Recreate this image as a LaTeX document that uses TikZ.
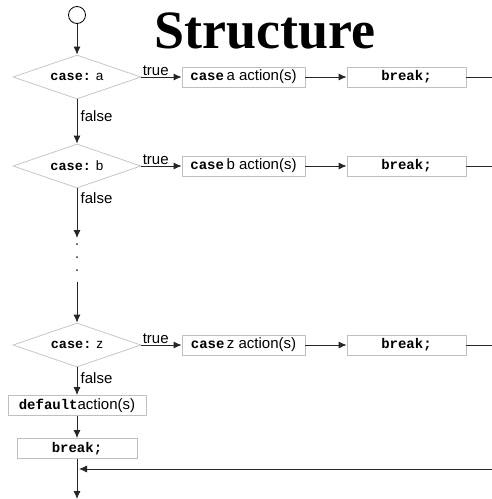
\documentclass[tikz,border=0pt]{standalone}
\usepackage{fontspec}
\setmainfont{Liberation Sans}
\setmonofont{Liberation Mono}
\newfontfamily\titlefont{Liberation Serif}
\usetikzlibrary{shapes.geometric,arrows.meta}

\newcommand{\kw}[1]{{\ttfamily\bfseries\fontsize{14}{16}\selectfont #1}}

\begin{document}
\begin{tikzpicture}[x=1pt, y=-1pt, line width=0.8pt]

    \tikzstyle{every node}=[font=\fontsize{15}{17}\selectfont]
    \tikzstyle{decision}=[draw=gray!45, diamond, aspect=2.9, minimum width=128pt,
                          minimum height=44pt, inner sep=0pt, font=\fontsize{13.5}{15}\selectfont]
    \tikzstyle{action}=[draw=gray!50, rectangle, minimum height=20pt, inner sep=1pt]
    \tikzstyle{flow}=[draw=black!85, -{Latex[length=8pt,width=7pt]}]

    \useasboundingbox (0,0) rectangle (492,499);

    \node[font=\titlefont\bfseries\fontsize{54}{60}\selectfont, anchor=base] (title) at (265,48) {Structure};
    \node[circle, draw, minimum size=17pt, inner sep=0pt] (start) at (77,15) {};

    % one row per case label
    \foreach \v/\y in {a/77, b/166, z/345} {
        \node[decision] (dec\v) at (77,\y) {{\ttfamily\bfseries case:} \v};
        \node[action, minimum width=123pt] (act\v) at (243.5,\y) {\kw{case}\,\v{} action(s)};
        \node[action, minimum width=119pt] (brk\v) at (406.5,\y) {\kw{break;}};
        \coordinate (out\v) at (492,\y);
        \draw[flow] (dec\v) -- node[pos=0, above right, inner sep=1pt] {true} (act\v);
        \draw[flow] (act\v) -- (brk\v);
        \draw[black!85] (brk\v) -- (out\v);
    }

    \node[action, minimum width=138pt] (default) at (77,405.5) {\kw{default}action(s)};
    \node[action, minimum width=120pt] (brkdef) at (77,448.5) {\kw{break;}};

    \coordinate (gap1) at (77,238);
    \coordinate (gap2) at (77,282);
    \coordinate (back) at (492,469);
    \coordinate (exit) at (77,499);

    \draw[flow] (start) -- (deca);
    \draw[flow] (deca) -- node[right, pos=.37] {false} (decb);
    \draw[flow] (decb) -- node[right, pos=.2] {false} (gap1);
    \foreach \d in {244,257,270}
        \fill[black!85] (77,\d) circle (1pt);
    \draw[flow] (gap2) -- (decz);
    \draw[flow] (decz) -- node[right, pos=.4] {false} (default);
    \draw[flow] (default) -- (brkdef);
    \draw[flow] (brkdef) -- (exit);
    \draw[flow, shorten >=2pt] (back) -- (back -| brkdef);

\end{tikzpicture}
\end{document}
